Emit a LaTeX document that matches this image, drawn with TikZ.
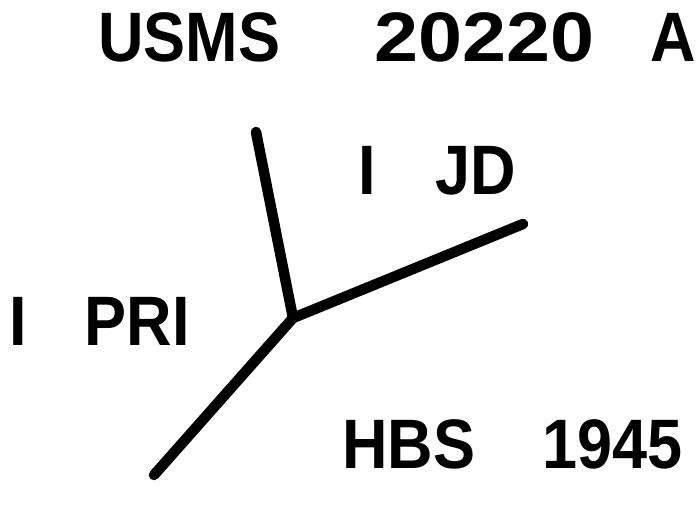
\documentclass[tikz,border=0pt]{standalone}
\usepackage{fontspec}
\newfontfamily\lettering{Liberation Sans}[FakeStretch=0.9]
\usepackage{tikz}
\usetikzlibrary{positioning}

\tikzset{
    tag/.style={anchor=base west, inner sep=0pt, font=\lettering\bfseries\fontsize{70}{72}\selectfont},
    branch/.style={line width=10.5pt, line cap=round, line join=round}
}

\begin{document}
\begin{tikzpicture}[x=1pt, y=-1pt]
    \useasboundingbox (0,0) rectangle (700,518);

    % Labels
    \node[tag] (usms) at (98,62) {USMS\hspace{94pt}{\addfontfeatures{FakeStretch=1.13}20220}\hspace{56pt}A};
    \node[tag] (jd) at (358,195) {I\hspace{60pt}JD};
    \node[tag] (pri) at (9,345) {I\hspace{58pt}PRI};
    \node[tag] (hbs) at (342,468) {HBS\hspace{67pt}1945};

    % Fork
    \coordinate (fork) at (293,318);
    \coordinate (tipN) at (256,132);
    \coordinate (tipE) at (523,224);
    \coordinate (tipSW) at (154,475);

    % Branches
    \draw[branch] (fork) -- (tipN);
    \draw[branch] (fork) -- (tipE);
    \draw[branch] (fork) -- (tipSW);

\end{tikzpicture}
\end{document}
